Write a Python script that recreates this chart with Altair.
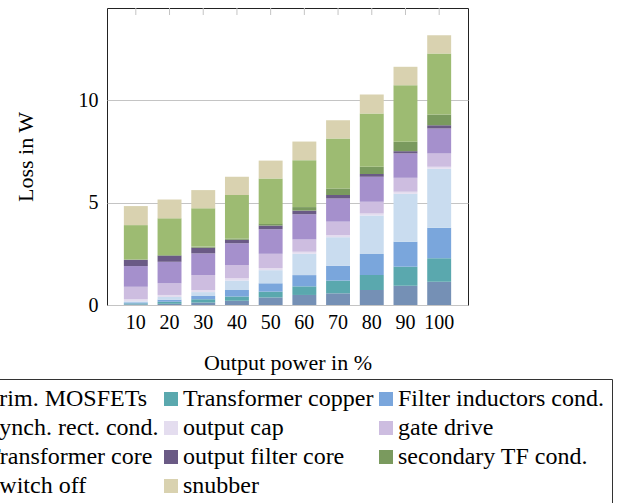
import altair as alt
import pandas as pd

loads = ["10", "20", "30", "40", "50", "60", "70", "80", "90", "100"]

series = [
    "Prim. MOSFETs", "Transformer copper", "Filter inductors cond.",
    "Synch. rect. cond.", "output cap", "gate drive",
    "Transformer core", "output filter core", "secondary TF cond.",
    "Switch off", "snubber",
]

prim_mosfets = [0.03, 0.06, 0.12, 0.21, 0.37, 0.49, 0.57, 0.73, 0.94, 1.14]
tf_copper = [0.05, 0.10, 0.16, 0.20, 0.28, 0.42, 0.62, 0.73, 0.93, 1.14]
filter_cond = [0.05, 0.10, 0.16, 0.32, 0.41, 0.55, 0.73, 1.03, 1.22, 1.49]
synch_rect = [0.05, 0.13, 0.19, 0.47, 0.64, 1.04, 1.39, 1.88, 2.34, 2.88]
output_cap = [0.10, 0.10, 0.10, 0.10, 0.10, 0.10, 0.10, 0.10, 0.10, 0.10]
gate_drive = [0.61, 0.57, 0.73, 0.65, 0.70, 0.60, 0.66, 0.57, 0.68, 0.65]
tf_core = [1.01, 1.05, 1.06, 1.06, 1.20, 1.23, 1.13, 1.22, 1.19, 1.22]
out_filter_core = [0.31, 0.30, 0.28, 0.18, 0.18, 0.18, 0.17, 0.13, 0.11, 0.16]
sec_tf_cond = [0.01, 0.03, 0.05, 0.06, 0.08, 0.17, 0.32, 0.36, 0.46, 0.52]
switch_off = [1.68, 1.79, 1.87, 2.12, 2.22, 2.29, 2.44, 2.60, 2.76, 2.98]
snubber = [0.93, 0.92, 0.89, 0.89, 0.87, 0.91, 0.89, 0.93, 0.90, 0.89]

values = [prim_mosfets, tf_copper, filter_cond, synch_rect, output_cap, gate_drive,
          tf_core, out_filter_core, sec_tf_cond, switch_off, snubber]

colors = ["#7590b5", "#5aa8ae", "#7aa6dc", "#c9dcef", "#e4ddef", "#cdbde0",
          "#a590cc", "#6a5a85", "#7a9a5e", "#9dbb72", "#d9d2b0"]

rows = []
for si, (name, vals) in enumerate(zip(series, values)):
    for load, v in zip(loads, vals):
        rows.append({"load": load, "series": name, "idx": si, "loss": v})
df = pd.DataFrame(rows)
cats = pd.DataFrame({"load": loads})

FONT = "Liberation Serif"

x_enc = alt.X("load:N", sort=loads,
              scale=alt.Scale(paddingInner=0.29, paddingOuter=0.5),
              axis=alt.Axis(title="Output power in %", labelAngle=0, ticks=False,
                            domain=False, labelPadding=7, titleY=57,
                            titleBaseline="middle"))

bars = alt.Chart(df).mark_bar().encode(
    x=x_enc,
    y=alt.Y("loss:Q", stack="zero",
            scale=alt.Scale(domain=[0, 14.5], nice=False),
            axis=alt.Axis(title="Loss in W", values=[0, 5, 10], ticks=False,
                          domain=False, grid=True, gridColor="#c4c4c4",
                          labelPadding=9, titleX=-82, titleBaseline="middle")),
    color=alt.Color("series:N", sort=series,
                    scale=alt.Scale(domain=series, range=colors),
                    legend=alt.Legend(title=None, orient="none", legendX=-153,
                                      legendY=371, columns=3, direction="horizontal",
                                      symbolType="square",
                                      symbolSize=196, symbolStrokeWidth=0,
                                      symbolOpacity=1,
                                      labelFont=FONT, labelFontSize=24,
                                      labelColor="black", labelLimit=400,
                                      labelOffset=0,
                                      strokeColor="#333", padding=8,
                                      rowPadding=5, columnPadding=0)),
    order=alt.Order("idx:Q", sort="ascending"),
)

top_ticks = alt.Chart(cats).mark_rule(color="#c4c4c4", strokeWidth=1).encode(
    x=alt.X("load:N", sort=loads),
    y=alt.value(0),
    y2=alt.value(7),
)

chart = alt.layer(bars, top_ticks).properties(
    width=361, height=297,
    background="white",
    autosize=alt.AutoSizeParams(type="none"),
    padding={"left": 107, "top": 8, "right": 152, "bottom": 198},
).configure_view(
    stroke="#222", strokeWidth=1
).configure_axis(
    labelFont=FONT, titleFont=FONT, labelFontSize=20, titleFontSize=22,
    labelColor="black", titleColor="black", titleFontWeight="normal"
)

chart.save("out.html", embed_options={"renderer": "svg", "actions": False})
